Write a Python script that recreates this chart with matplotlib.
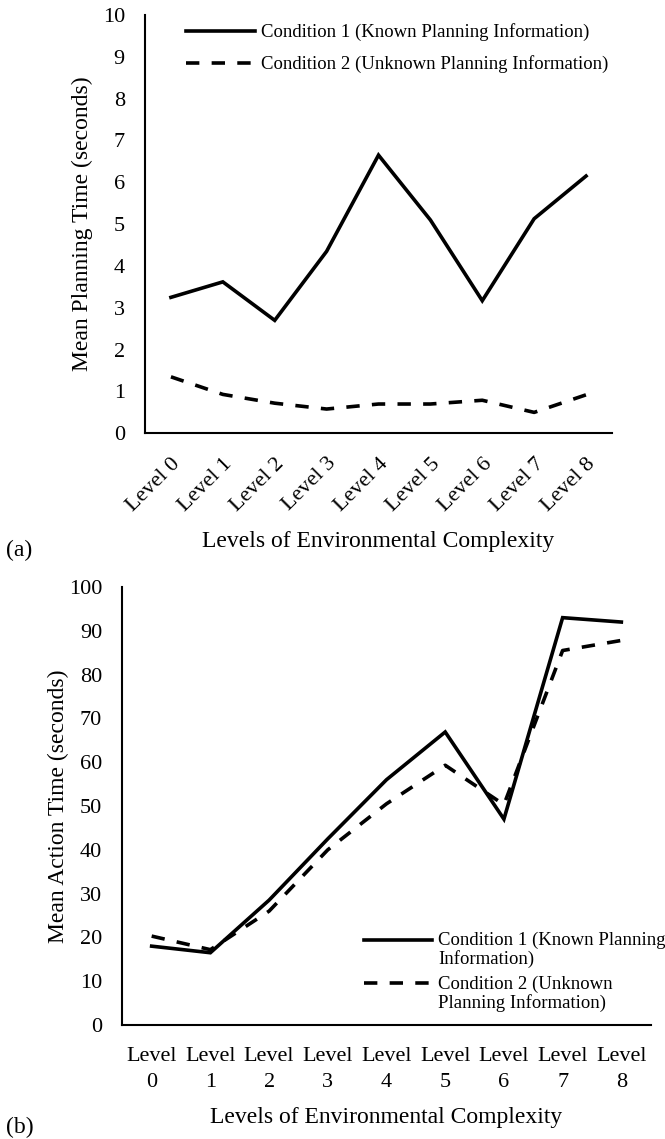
import numpy as np
import matplotlib
matplotlib.use("Agg")
import matplotlib.pyplot as plt
from matplotlib.legend_handler import HandlerLine2D

# ================= DATA =================
levels = [f"Level {i}" for i in range(9)]
levels_two_line = [f"Level\n{i}" for i in range(9)]

planning_known = [3.25, 3.62, 2.70, 4.35, 6.65, 5.10, 3.17, 5.13, 6.15]
planning_unknown = [1.35, 0.93, 0.72, 0.58, 0.70, 0.70, 0.79, 0.50, 0.92]

action_known = [18.0, 16.5, 28.5, 42.5, 56.0, 66.9, 47.0, 93.0, 92.0]
action_unknown = [20.3, 17.2, 26.0, 40.0, 50.5, 59.3, 50.3, 85.5, 87.8]

label_known = "Condition 1 (Known Planning Information)"
label_unknown = "Condition 2 (Unknown Planning Information)"
label_known_b = "Condition 1 (Known Planning\nInformation)"
label_unknown_b = "Condition 2 (Unknown\nPlanning Information)"

plt.rcParams['font.family'] = ['Liberation Serif', 'DejaVu Serif']

LW = 2.6
DASH = (3.7, 3.4)
TICK_FS = 16
LABEL_FS = 17
LEG_FS = 13.5


class TopLineHandler(HandlerLine2D):
    # put the legend line on the first line of a two-line label
    def __init__(self, shift=0.0, **kw):
        super().__init__(**kw)
        self.shift = shift

    def create_artists(self, legend, orig_handle, xdescent, ydescent,
                       width, height, fontsize, trans):
        arts = super().create_artists(legend, orig_handle, xdescent, ydescent,
                                      width, height, fontsize, trans)
        for a in arts:
            a.set_ydata(np.asarray(a.get_ydata()) + self.shift * fontsize)
        return arts


def style_axes(ax):
    for side in ['top', 'right']:
        ax.spines[side].set_visible(False)
    for side in ['left', 'bottom']:
        ax.spines[side].set_linewidth(1.5)
        ax.spines[side].set_color('black')
    ax.tick_params(length=0, labelsize=TICK_FS)
    ax.tick_params(axis='y', pad=14.5)
    ax.set_xlim(-0.5, 8.5)


fig = plt.figure(figsize=(6.65, 11.39), dpi=100)
W, H = 665, 1139

# ---------- panel (a) ----------
ax1 = fig.add_axes([145 / W, 1 - 433.3 / H, 467 / W, 418.3 / H])
x = np.arange(len(levels))
ax1.plot(x, planning_known, color='black', lw=LW, solid_joinstyle='miter',
         label=label_known)
ax1.plot(x, planning_unknown, color='black', lw=LW, ls=(0, DASH),
         label=label_unknown)
style_axes(ax1)
ax1.set_ylim(0, 10)
ax1.set_yticks(range(0, 11))
ax1.set_xticks(x)
ax1.set_xticklabels(levels, rotation=45, ha='right', rotation_mode='anchor')
ax1.tick_params(axis='x', pad=15)
ax1.set_ylabel("Mean Planning Time (seconds)", fontsize=LABEL_FS, va='center')
ax1.yaxis.set_label_coords(-0.1336, 0.5)
ax1.set_xlabel("Levels of Environmental Complexity", fontsize=LABEL_FS, va='center')
ax1.xaxis.set_label_coords(0.5, -0.259)
ax1.legend(loc='upper left', bbox_to_anchor=(0.088, 0.98), frameon=False,
           fontsize=LEG_FS, handlelength=3.7, handletextpad=0.3,
           borderpad=0, borderaxespad=0, labelspacing=0.75)
fig.text(6 / W, 1 - 550 / H, "(a)", fontsize=LABEL_FS, va='center', ha='left')

# ---------- panel (b) ----------
ax2 = fig.add_axes([122.3 / W, 1 - 1025 / H, 528.4 / W, 438 / H])
ax2.plot(x, action_known, color='black', lw=LW, solid_joinstyle='miter',
         label=label_known_b)
ax2.plot(x, action_unknown, color='black', lw=LW, ls=(0, DASH),
         label=label_unknown_b)
style_axes(ax2)
ax2.set_ylim(0, 100)
ax2.set_yticks(range(0, 101, 10))
ax2.set_xticks(x)
ax2.set_xticklabels(levels_two_line, linespacing=1.5)
ax2.tick_params(axis='x', pad=15.5)
ax2.set_ylabel("Mean Action Time (seconds)", fontsize=LABEL_FS, va='center')
ax2.yaxis.set_label_coords(-0.12, 0.5)
ax2.set_xlabel("Levels of Environmental Complexity", fontsize=LABEL_FS, va='center')
ax2.xaxis.set_label_coords(0.5, -0.2123)
leg = ax2.legend(loc='upper left', bbox_to_anchor=(0.457, 0.213), frameon=False,
                 fontsize=LEG_FS, handlelength=3.65, handletextpad=0.3,
                 borderpad=0, borderaxespad=0, labelspacing=0.37,
                 handler_map={plt.Line2D: TopLineHandler(shift=0.55)})
for t in leg.get_texts():
    t.set_linespacing(1.1)
fig.text(6 / W, 1 - 1127 / H, "(b)", fontsize=LABEL_FS, va='center', ha='left')

fig.savefig("out.png", dpi=100, facecolor='white')
